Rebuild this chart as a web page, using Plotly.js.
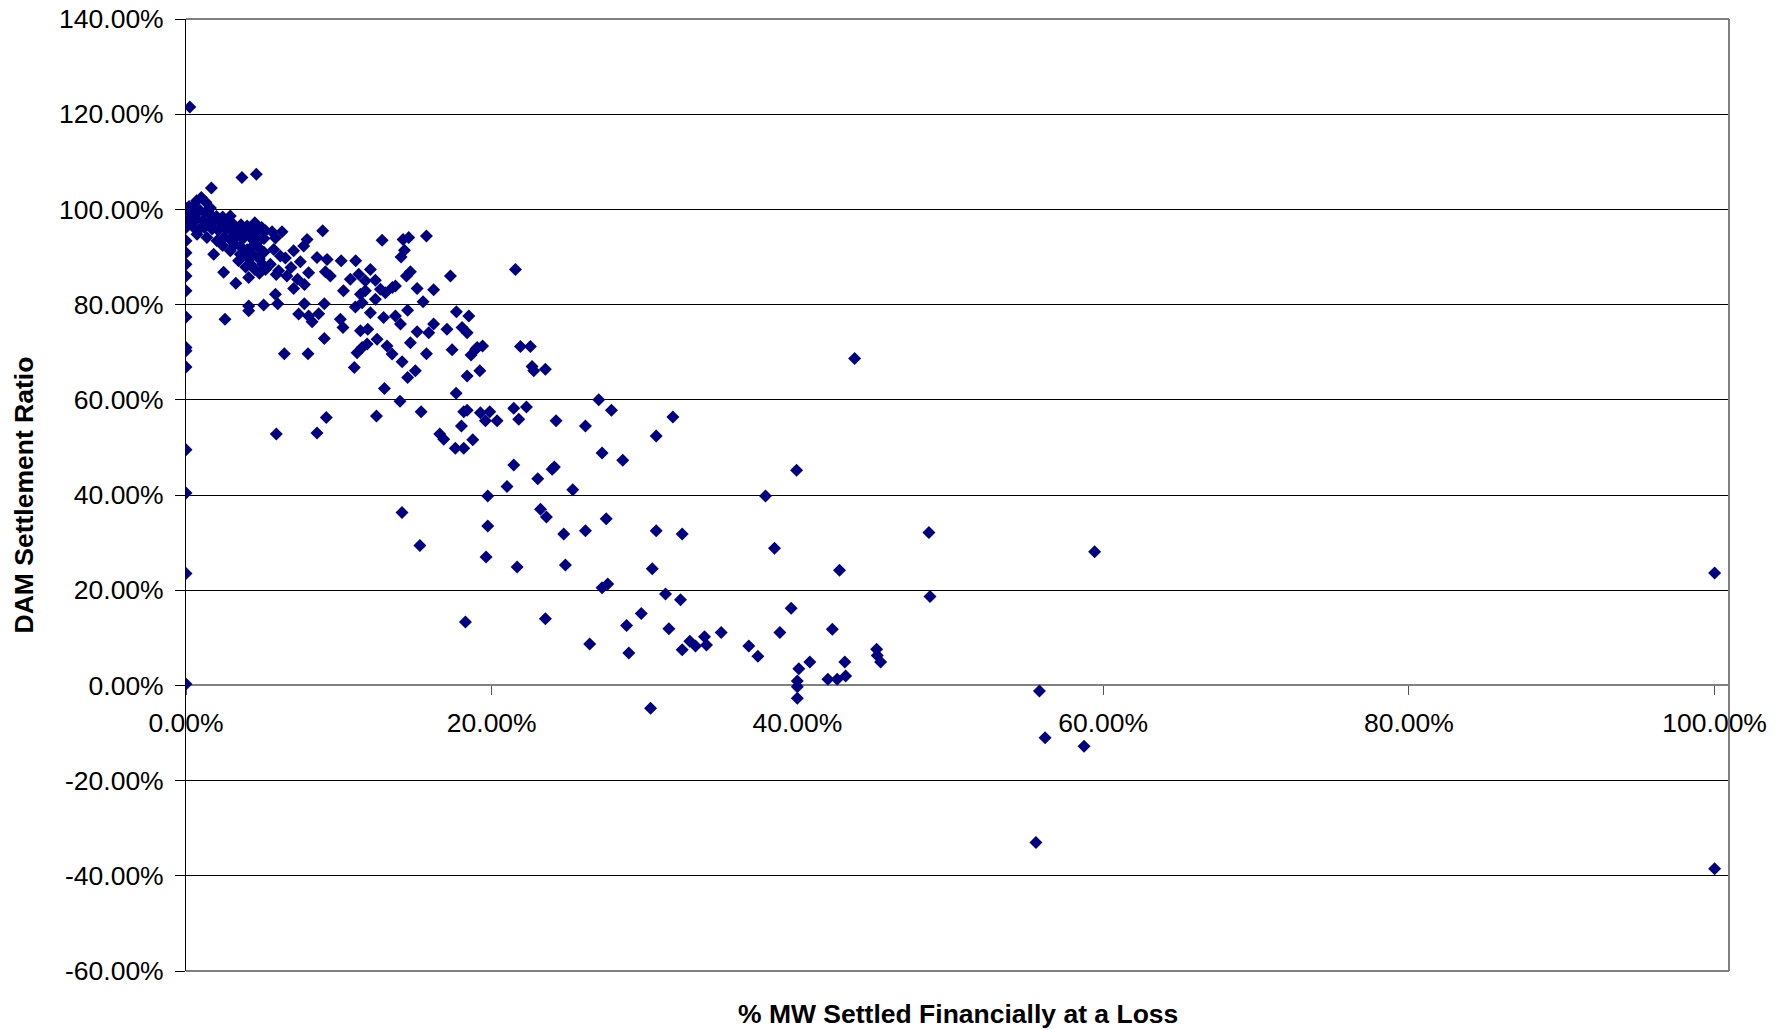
<!DOCTYPE html>
<html>
<head>
<meta charset="utf-8">
<script src="https://cdn.plot.ly/plotly-3.0.1.min.js"></script>
<style>
  html, body { margin: 0; padding: 0; background: #ffffff; }
  #chart { width: 1789px; height: 1030px; }
</style>
</head>
<body>
<div id="chart"></div>
<script>
// % MW Settled Financially at a Loss (x, in %) and DAM Settlement Ratio (y, in %)
const lossPct = [
  // points on the 0% column
  0,0,0,0,0,0,0,0,0,0,0,0,0,0,0,0,0,0,
  // isolated high points
  0.25,1.66,3.66,4.6,
  // dense cluster near the origin
  0.2,0.4,0.7,1.0,1.3,1.6,0.5,0.9,1.25,1.6,2.0,2.4,2.9,0.3,0.7,1.1,1.5,1.9,2.35,2.8,
  3.1,3.6,4.0,4.5,4.95,0.45,0.85,1.2,1.7,2.1,2.6,3.0,3.4,3.8,4.2,4.6,5.2,0.72,1.37,2.03,
  2.5,2.9,3.3,3.7,4.1,4.43,4.76,5.1,2.4,2.9,3.2,3.6,4.0,4.4,4.8,5.1,1.81,3.55,4.0,4.4,
  4.8,3.44,4.2,5.0,4.5,4.8,5.2,3.9,2.46,4.1,3.26,
  // 5% - 14%
  5.63,6.28,5.85,5.74,6.17,6.5,5.52,6.06,6.6,5.9,7.04,7.7,7.92,8.94,8.57,9.23,10.15,11.1,12.06,12.83,
  7.48,6.87,9.12,9.44,8.02,10.75,11.3,11.73,12.39,7.3,7.04,7.75,10.3,11.41,11.73,12.72,13.04,13.5,13.7,
  6.0,7.74,9.05,5.85,5.08,4.1,4.1,2.55,
  11.08,11.52,12.06,12.39,7.37,8.02,8.68,8.25,10.1,10.27,12.93,13.7,11.41,11.89,9.05,12.5,11.85,11.52,
  11.19,13.15,13.48,6.43,7.98,11.01,12.98,14.03,14.5,15.51,15.12,16.2,14.42,14.68,14.07,14.29,14.2,14.57,
  15.73,17.3,21.55,17.69,18.5,16.2,15.12,15.88,17.07,18.06,18.39,14.68,17.41,19.05,18.95,19.4,18.65,
  15.73,14.14,15.0,14.5,18.39,19.22,17.67,21.88,22.53,22.64,22.75,23.51,43.74,
  14.0,15.38,18.17,18.39,19.26,19.87,19.59,20.35,18.02,21.44,22.27,21.77,24.21,27.0,27.83,26.13,31.85,30.76,
  16.6,16.86,17.62,18.17,18.76,21.44,21.0,23.01,23.95,24.1,25.3,27.22,28.57,39.94,37.91,19.74,
  23.19,23.58,19.74,27.49,24.71,26.13,30.76,32.46,48.6,38.5,19.63,21.66,24.82,30.5,42.75,
  27.22,27.59,31.37,32.35,48.67,18.28,23.51,28.82,29.78,31.59,39.59,42.28,38.85,35.01,33.92,32.96,33.33,
  32.46,34.05,26.41,28.97,36.82,37.41,40.81,40.09,43.1,45.18,45.22,45.44,41.99,42.6,43.15,39.99,39.99,
  39.99,30.39,
  59.44,55.83,56.2,58.75,55.6,100,100,
  14.13,15.3,12.46,9.18,8.57,5.91
];
const settlementRatio = [
  100.2,99.2,98.2,97.1,96.2,93.4,90.9,88.5,86.0,82.9,77.4,71.0,70.3,66.9,49.5,40.4,23.5,0.3,
  121.5,104.5,106.7,107.4,
  100.6,100.3,101.8,102.5,101.5,100.3,99.2,99.8,99.3,99.0,98.5,98.4,98.6,98.3,98.0,97.6,97.4,97.6,97.2,97.3,
  96.9,96.8,96.5,97.2,96.2,96.4,95.8,96.2,95.9,95.6,96.0,95.3,95.8,95.4,95.6,95.0,95.5,94.8,94.1,93.4,
  94.2,93.6,94.4,93.8,94.6,93.4,93.4,93.9,92.4,91.3,92.6,92.1,91.5,92.4,91.8,91.0,90.6,90.6,90.0,90.4,
  89.6,89.2,88.6,88.5,87.4,86.6,87.4,87.9,86.8,85.7,84.5,
  95.3,95.3,94.0,91.6,90.2,89.8,88.5,87.1,86.0,86.3,91.3,92.3,93.7,95.5,89.9,89.5,89.2,89.2,87.4,93.5,
  89.0,87.8,86.9,86.0,86.7,85.3,86.4,85.0,85.1,85.3,83.4,84.2,82.9,82.2,82.9,83.2,82.5,83.6,83.9,
  80.2,80.2,80.2,82.2,79.9,79.7,78.7,76.9,
  79.5,80.4,78.3,81.1,78.0,77.6,78.1,76.4,76.9,75.2,77.3,77.6,74.5,74.8,72.9,72.7,71.7,71.0,
  69.9,71.3,69.6,69.7,69.7,66.8,62.4,75.9,78.8,80.6,83.4,83.1,86.0,86.9,90.0,91.4,93.7,94.1,
  94.4,86.0,87.4,78.5,77.6,75.9,74.3,74.1,74.8,75.2,74.1,72.0,70.5,71.0,70.6,71.3,69.4,
  69.7,68.0,66.1,64.7,65.0,66.1,61.4,71.2,71.2,67.0,66.1,66.4,68.7,
  59.7,57.5,57.5,57.8,57.3,57.5,55.6,55.6,54.5,58.2,58.5,55.9,55.6,60.0,57.8,54.5,56.4,52.4,
  52.8,51.7,49.8,49.8,51.6,46.3,41.8,43.4,45.4,45.9,41.1,48.8,47.3,45.2,39.8,39.8,
  37.0,35.4,33.5,35.0,31.8,32.5,32.5,31.8,32.1,28.8,27.0,24.9,25.3,24.5,24.2,
  20.5,21.3,19.2,18.0,18.7,13.3,14.0,12.6,15.1,11.9,16.2,11.8,11.1,11.1,10.2,9.3,8.3,
  7.5,8.5,8.7,6.8,8.3,6.1,4.9,3.5,4.9,7.6,6.3,4.9,1.3,1.3,2.0,0.9,-0.3,
  -2.7,-4.8,
  28.1,-1.2,-11.0,-12.8,-33.0,23.6,-38.5,
  36.3,29.4,56.6,56.3,53.0,52.8
];

const xTickVals = [0, 20, 40, 60, 80, 100];
const xTickLabels = ['0.00%', '20.00%', '40.00%', '60.00%', '80.00%', '100.00%'];
const yTickVals = [-60, -40, -20, 0, 20, 40, 60, 80, 100, 120, 140];
const yTickLabels = ['-60.00%', '-40.00%', '-20.00%', '0.00%', '20.00%', '40.00%', '60.00%', '80.00%', '100.00%', '120.00%', '140.00%'];

const xTitle = '% MW Settled Financially at a Loss';
const yTitle = 'DAM Settlement Ratio';

const trace = {
  type: 'scatter',
  mode: 'markers',
  x: lossPct,
  y: settlementRatio,
  marker: { symbol: 'diamond', size: 10, color: '#000080', line: { width: 0 } },
  hoverinfo: 'x+y'
};

const FONT = 'Liberation Sans, Arial, sans-serif';
const FS = 26.5;

const layout = {
  width: 1789,
  height: 1030,
  margin: { l: 186, r: 60, t: 19, b: 59, pad: 0 },
  paper_bgcolor: '#ffffff',
  plot_bgcolor: '#ffffff',
  showlegend: false,
  font: { family: FONT, size: FS, color: '#000000' },
  xaxis: {
    range: [0, 100.94],
    tickmode: 'array',
    tickvals: xTickVals,
    ticktext: xTickLabels,
    showgrid: false,
    zeroline: false,
    showline: true,
    linecolor: '#808080',
    linewidth: 2,
    ticks: 'outside',
    ticklen: 9,
    tickwidth: 1,
    tickcolor: '#555555',
    ticklabelstandoff: 5,
    anchor: 'free',
    position: 0.3,
    layer: 'below traces',
    tickfont: { family: FONT, size: FS, color: '#000000' },
    fixedrange: true
  },
  yaxis: {
    range: [-60, 140],
    tickmode: 'array',
    tickvals: yTickVals,
    ticktext: yTickLabels,
    showgrid: true,
    gridcolor: '#000000',
    gridwidth: 1,
    zeroline: false,
    showline: true,
    linecolor: '#000000',
    linewidth: 1,
    ticks: 'outside',
    ticklen: 10,
    tickwidth: 1,
    tickcolor: '#000000',
    ticklabelstandoff: 6,
    layer: 'below traces',
    tickfont: { family: FONT, size: FS, color: '#000000' },
    fixedrange: true
  },
  shapes: [
    { type: 'line', xref: 'paper', yref: 'paper', x0: 0, x1: 1, y0: 1, y1: 1, line: { color: '#808080', width: 2 }, layer: 'above' },
    { type: 'line', xref: 'paper', yref: 'paper', x0: 0, x1: 1, y0: 0, y1: 0, line: { color: '#808080', width: 2 }, layer: 'above' },
    { type: 'line', xref: 'paper', yref: 'paper', x0: 1, x1: 1, y0: 0, y1: 1, line: { color: '#808080', width: 2 }, layer: 'above' }
  ],
  annotations: [
    {
      text: yTitle, xref: 'paper', yref: 'paper', x: -0.1047, y: 0.5,
      xanchor: 'center', yanchor: 'middle', textangle: -90, showarrow: false,
      font: { family: FONT, size: FS, color: '#000000', weight: 'bold' }
    },
    {
      text: xTitle, xref: 'paper', yref: 'paper', x: 0.5, y: -0.0452,
      xanchor: 'center', yanchor: 'middle', showarrow: false,
      font: { family: FONT, size: FS, color: '#000000', weight: 'bold' }
    }
  ]
};

Plotly.newPlot('chart', [trace], layout, { displayModeBar: false, staticPlot: true });
</script>
</body>
</html>
